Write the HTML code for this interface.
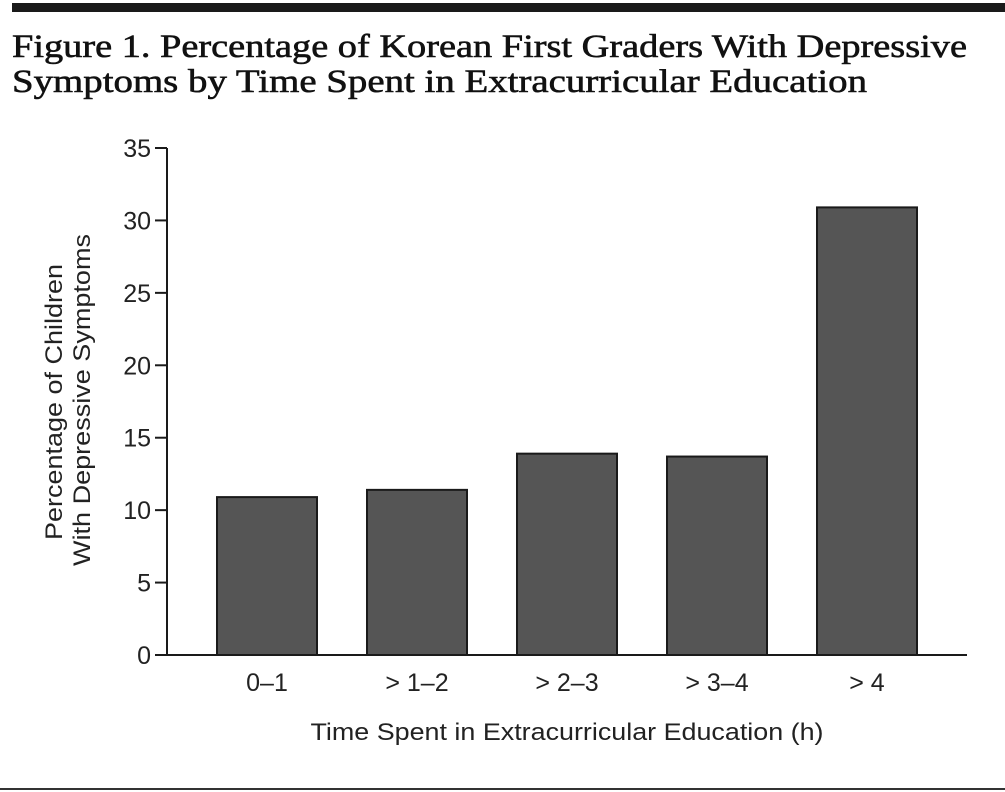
<!DOCTYPE html>
<html><head><meta charset="utf-8"><style>
html,body{margin:0;padding:0;background:#fff;}
svg{display:block;}
</style></head><body>
<svg id="chart" width="1005" height="792" viewBox="0 0 1005 792" xmlns="http://www.w3.org/2000/svg">
<rect x="12" y="3" width="993" height="9" fill="#1a1a1a"/>
<text x="12" y="57" font-family="Liberation Serif, serif" font-size="33" fill="#111" stroke="#111" stroke-width="0.6" textLength="955" lengthAdjust="spacingAndGlyphs">Figure 1. Percentage of Korean First Graders With Depressive</text>
<text x="12" y="92" font-family="Liberation Serif, serif" font-size="33" fill="#111" stroke="#111" stroke-width="0.6" textLength="855" lengthAdjust="spacingAndGlyphs">Symptoms by Time Spent in Extracurricular Education</text>
<g id="plot"></g>
<text x="567" y="740" text-anchor="middle" font-family="Liberation Sans, sans-serif" font-size="24" fill="#222" textLength="513" lengthAdjust="spacingAndGlyphs">Time Spent in Extracurricular Education (h)</text>
<text transform="translate(62,402) rotate(-90)" text-anchor="middle" font-family="Liberation Sans, sans-serif" font-size="24" fill="#222" textLength="276" lengthAdjust="spacingAndGlyphs">Percentage of Children</text>
<text transform="translate(90,400) rotate(-90)" text-anchor="middle" font-family="Liberation Sans, sans-serif" font-size="24" fill="#222" textLength="332" lengthAdjust="spacingAndGlyphs">With Depressive Symptoms</text>
<rect x="0" y="788" width="1005" height="2" fill="#333"/>
</svg>
<script>
const categories = ["0–1", "> 1–2", "> 2–3", "> 3–4", "> 4"];
const values = [10.9, 11.4, 13.9, 13.7, 30.9];
const yTicks = [0, 5, 10, 15, 20, 25, 30, 35];

const NS = "http://www.w3.org/2000/svg";
const g = document.getElementById("plot");
const x0 = 167, x1 = 967, yTop = 148, yBot = 655, yMax = 35;
const y = v => yBot - (v / yMax) * (yBot - yTop);
const band = 150, barW = 100, firstLeft = 217;
const xLeft = i => firstLeft + i * band;

function mk(tag, attrs) {
  const e = document.createElementNS(NS, tag);
  for (const k in attrs) e.setAttribute(k, attrs[k]);
  g.appendChild(e);
  return e;
}

values.forEach((v, i) => {
  const r = mk("rect", {x: xLeft(i), y: y(v), width: barW, height: yBot - y(v), fill: "#555", stroke: "#1a1a1a", "stroke-width": 2});
  
  
  const t = mk("text", {x: xLeft(i) + barW / 2, y: 691, "text-anchor": "middle", "font-family": "Liberation Sans, sans-serif", "font-size": 25, fill: "#222"});
  t.textContent = categories[i];
  
  
});

const ya = mk("line", {x1: x0, y1: yTop, x2: x0, y2: yBot, stroke: "#1a1a1a", "stroke-width": 2});


const xa = mk("line", {x1: x0 - 1, y1: yBot, x2: x1, y2: yBot, stroke: "#1a1a1a", "stroke-width": 2});



yTicks.forEach(v => {
  const tk = mk("line", {x1: 155, y1: y(v), x2: x0, y2: y(v), stroke: "#1a1a1a", "stroke-width": 2});
  
  
  const t = mk("text", {x: 151, y: y(v) + 9, "text-anchor": "end", "font-family": "Liberation Sans, sans-serif", "font-size": 25, fill: "#222"});
  t.textContent = v;
  
  
});
</script>
</body></html>
